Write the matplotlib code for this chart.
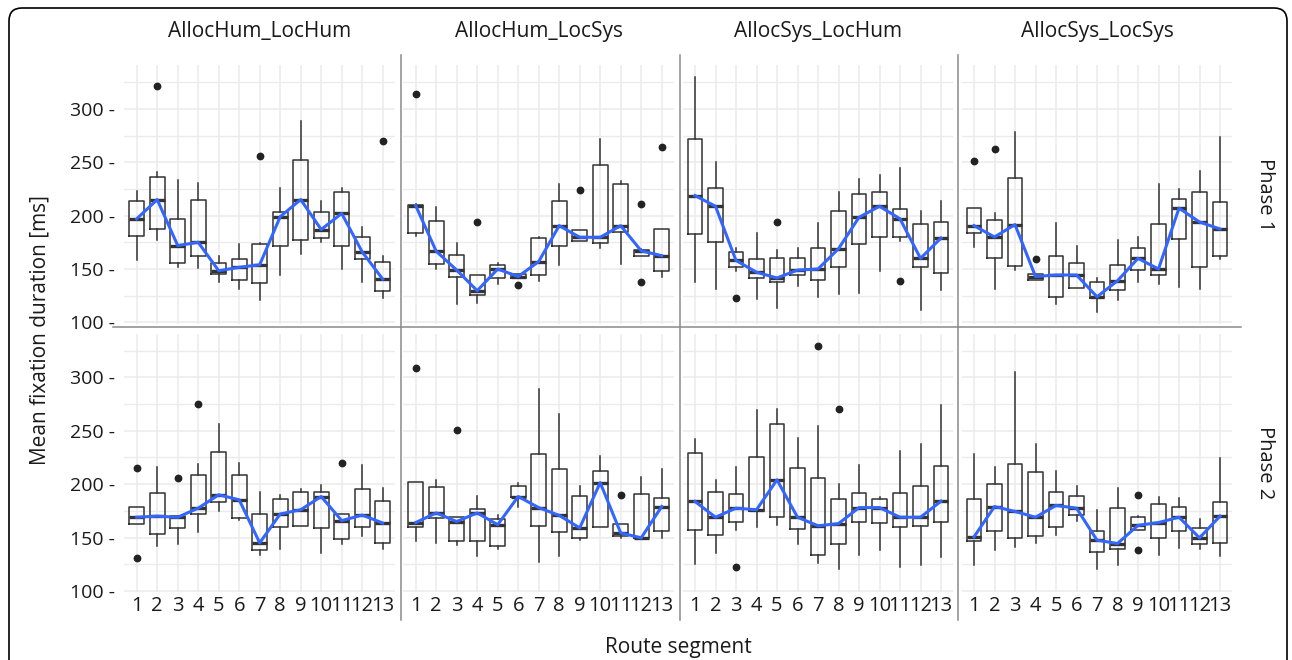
import matplotlib
matplotlib.use("Agg")
import matplotlib.pyplot as plt
from matplotlib.patches import FancyBboxPatch
from matplotlib.lines import Line2D
from matplotlib.ticker import FixedLocator

plt.rcParams['font.family'] = ['Open Sans', 'DejaVu Sans']

segments = list(range(1, 14))
seg_labels = [str(s) for s in segments]
conditions = ["AllocHum_LocHum", "AllocHum_LocSys", "AllocSys_LocHum", "AllocSys_LocSys"]
phases = ["Phase 1", "Phase 2"]
y_ticks = [100, 150, 200, 250, 300]
y_tick_labels = ["100 -", "150 -", "200 -", "250 -", "300 -"]

# ---- Phase 1, AllocHum_LocHum
p1_ahlh_lo = [158, 177, 151.6, 150.6, 137.5, 131, 121, 144, 164, 175, 150, 138, 123]
p1_ahlh_q1 = [181, 187.5, 155.3, 162.5, 145.3, 139.7, 136.6, 172, 177, 178.8, 172, 159.4, 129.7]
p1_ahlh_med = [197, 215, 172, 175, 148.4, 151.6, 154, 199, 215, 187, 202, 166, 140.6]
p1_ahlh_q3 = [214, 236.6, 197, 215, 155.3, 159, 173.4, 203, 251.6, 203, 222.5, 179.7, 157]
p1_ahlh_hi = [223.4, 240.6, 233, 231, 162.5, 173.4, 174, 225.6, 289, 214, 225.6, 189, 162.5]
p1_ahlh_out = [(2, 321), (7, 256), (13, 270)]

# ---- Phase 1, AllocHum_LocSys
p1_ahls_lo = [181, 150, 117.2, 118, 136, 141.6, 139, 154, 176.6, 169.7, 155, 162.5, 143]
p1_ahls_q1 = [183.4, 154.7, 142.2, 126, 141.6, 141.6, 144.7, 172, 176.6, 174.4, 184.4, 162.5, 148]
p1_ahls_med = [209.4, 166.6, 149, 129.7, 150, 143, 157, 190.6, 179.7, 179.7, 190.6, 167, 162.5]
p1_ahls_q3 = [210.3, 195.3, 163.4, 144.7, 154, 145.3, 179, 214, 187, 247, 229.7, 168, 187.5]
p1_ahls_hi = [211, 208, 174.4, 144.7, 156, 145.3, 180, 229.7, 187, 272, 232, 168.6, 187.5]
p1_ahls_out = [(1, 314), (4, 194), (6, 135), (9, 224.4), (12, 211), (12, 137.5), (13, 264)]

# ---- Phase 1, AllocSys_LocHum
p1_aslh_lo = [137.5, 131, 148.4, 122, 113.4, 134.4, 124, 127, 128, 148.4, 176, 112, 130]
p1_aslh_q1 = [183, 175, 151.6, 142, 137.5, 144.4, 139.7, 151.6, 173.4, 179.7, 179.7, 151.6, 146]
p1_aslh_med = [218.75, 208.75, 158, 147, 141.6, 149, 150, 169, 198.4, 208.75, 197, 160, 179]
p1_aslh_q3 = [272, 226, 166, 159.4, 160.3, 160.3, 170, 204, 220, 222, 206, 192, 194.4]
p1_aslh_hi = [330, 250, 170, 183.4, 168, 170, 193, 222, 234, 238, 245, 204, 214]
p1_aslh_out = [(3, 122.8), (5, 194.4), (11, 139)]

# ---- Phase 1, AllocSys_LocSys
p1_asls_lo = [171, 131, 149, 139.7, 117, 132, 109.6, 121, 138, 136, 133, 131, 159.4]
p1_asls_q1 = [183.75, 160, 152.5, 139.7, 123.4, 132, 122.5, 130, 149.4, 144.4, 178, 151.6, 162]
p1_asls_med = [190.6, 180, 191.6, 143, 144.4, 144.4, 124, 139, 160, 150, 207, 194, 187.5]
p1_asls_q3 = [207, 196, 235, 145.3, 162, 155.6, 137.5, 153.75, 170, 192, 215.6, 222, 213]
p1_asls_hi = [207, 202, 278, 145.3, 193, 172, 142, 177, 180, 230, 225, 241.6, 274]
p1_asls_out = [(1, 251), (2, 262.5), (4, 159.4)]

# ---- Phase 2, AllocHum_LocHum
p2_ahlh_lo = [163, 142.5, 144.4, 155, 174.4, 166, 133.5, 139, 161, 135.7, 144, 151, 139.4]
p2_ahlh_q1 = [163, 153, 159, 172, 183, 168, 138, 159.6, 161, 159, 149, 160, 145]
p2_ahlh_med = [169, 170, 169, 177.5, 190, 185.3, 145, 172, 176, 188.4, 165.8, 171, 163.6]
p2_ahlh_q3 = [179, 191.5, 170, 208.5, 229.6, 208.5, 172, 186, 193, 192.4, 172, 195, 183.75]
p2_ahlh_hi = [179, 216, 170, 218.5, 256, 219.4, 193, 190, 195, 199, 172, 218, 196.8]
p2_ahlh_out = [(1, 214.75), (1, 131), (3, 206), (4, 274.6), (11, 220)]

# ---- Phase 2, AllocHum_LocSys
p2_ahls_lo = [147, 145, 143, 132.6, 139.4, 179, 127.3, 133, 148, 160, 149.7, 149.7, 149.7]
p2_ahls_q1 = [159.6, 168, 147, 147, 142.5, 187.5, 161, 155, 150, 160, 151, 149.7, 155.8]
p2_ahls_med = [164, 173, 165, 173, 162, 188.4, 178, 170.7, 159, 201.4, 154.3, 149.7, 179]
p2_ahls_q3 = [201.7, 197.7, 168.9, 176.6, 167.3, 198.6, 228, 213.8, 189.3, 212, 163, 190.6, 186.8]
p2_ahls_hi = [201.7, 204, 168.9, 189, 171.35, 201.4, 289, 266, 198.3, 226, 163, 207, 214]
p2_ahls_out = [(1, 309), (3, 251), (11, 190)]

# ---- Phase 2, AllocSys_LocHum
p2_aslh_lo = [125, 135.7, 157.4, 159.6, 162, 144, 126.4, 121, 133.5, 138, 122.7, 124, 131.7]
p2_aslh_q1 = [157.4, 152, 164.5, 175, 169, 158.3, 134, 144, 165, 163.6, 159.6, 161, 165]
p2_aslh_med = [183.75, 169, 177.5, 176, 204, 169, 161, 163, 178, 178, 169, 169, 184]
p2_aslh_q3 = [229.3, 193, 190.9, 225, 256, 215, 206, 186, 191.5, 186, 191.5, 198, 217]
p2_aslh_hi = [242, 204, 216, 269, 270.5, 243, 254.4, 200, 218, 188.4, 231, 237.4, 273.6]
p2_aslh_out = [(3, 122.7), (7, 329.5), (8, 270.5)]

# ---- Phase 2, AllocSys_LocSys
p2_asls_lo = [124, 138, 141, 145, 152, 165.8, 120.8, 124, 156.8, 134, 140.4, 139.7, 133]
p2_asls_q1 = [147, 156, 150, 151, 159.6, 171.35, 136.6, 139.7, 156.8, 149.7, 156, 144, 145]
p2_asls_med = [150.6, 179, 174.4, 169, 180, 177.5, 147.5, 144.4, 161.4, 164, 169, 149.7, 170]
p2_asls_q3 = [186, 200, 218.5, 211, 192.4, 189, 156, 177.5, 168.9, 181, 179, 159, 182.8]
p2_asls_hi = [228, 216, 304.6, 237.4, 212.6, 198.3, 176, 196, 169.8, 187.5, 187, 167.6, 224.7]
p2_asls_out = [(9, 190), (9, 138.2)]

panels = [
    [(p1_ahlh_lo, p1_ahlh_q1, p1_ahlh_med, p1_ahlh_q3, p1_ahlh_hi, p1_ahlh_out),
     (p1_ahls_lo, p1_ahls_q1, p1_ahls_med, p1_ahls_q3, p1_ahls_hi, p1_ahls_out),
     (p1_aslh_lo, p1_aslh_q1, p1_aslh_med, p1_aslh_q3, p1_aslh_hi, p1_aslh_out),
     (p1_asls_lo, p1_asls_q1, p1_asls_med, p1_asls_q3, p1_asls_hi, p1_asls_out)],
    [(p2_ahlh_lo, p2_ahlh_q1, p2_ahlh_med, p2_ahlh_q3, p2_ahlh_hi, p2_ahlh_out),
     (p2_ahls_lo, p2_ahls_q1, p2_ahls_med, p2_ahls_q3, p2_ahls_hi, p2_ahls_out),
     (p2_aslh_lo, p2_aslh_q1, p2_aslh_med, p2_aslh_q3, p2_aslh_hi, p2_aslh_out),
     (p2_asls_lo, p2_asls_q1, p2_asls_med, p2_asls_q3, p2_asls_hi, p2_asls_out)],
]

W, H = 1292, 660
fig = plt.figure(figsize=(W / 100, H / 100), dpi=100)
fig.patch.set_facecolor("white")

def px_axes(x0, y_top, w, h):
    return fig.add_axes([x0 / W, 1 - (y_top + h) / H, w / W, h / H])

col_left = [124.4, 403.4, 682.7, 961.7]
col_w = 270.6
row_top = [65.0, 333.5]
row_h = 258.5
txt = "#1a1a1a"

box_col = "#333333"
for r in range(2):
    for c in range(4):
        lo, q1, med, q3, hi, out = panels[r][c]
        ax = px_axes(col_left[c], row_top[r], col_w, row_h)
        ax.set_xlim(0.4, 13.6)
        ax.set_ylim(99, 341)
        ax.set_facecolor("white")
        for s in ax.spines.values():
            s.set_visible(False)
        ax.xaxis.set_major_locator(FixedLocator(segments))
        ax.yaxis.set_major_locator(FixedLocator(y_ticks))
        ax.yaxis.set_minor_locator(FixedLocator([125, 175, 225, 275, 325]))
        ax.grid(True, which="major", color="#EBEBEB", lw=1.1, zorder=0)
        ax.grid(True, which="minor", axis="y", color="#EBEBEB", lw=1.0, zorder=0)
        ax.set_axisbelow(True)
        ax.tick_params(which="both", length=0)
        stats = []
        for i in range(13):
            fl = [v for (sg, v) in out if sg == segments[i]]
            stats.append(dict(whislo=lo[i], q1=q1[i], med=med[i], q3=q3[i],
                              whishi=hi[i], fliers=fl))
        ax.bxp(stats, positions=segments, widths=0.72, showcaps=False,
               boxprops=dict(color=box_col, lw=1.1),
               whiskerprops=dict(color=box_col, lw=1.1),
               medianprops=dict(color=box_col, lw=2.4),
               flierprops=dict(marker="o", markersize=4.6, markerfacecolor="#222222",
                               markeredgecolor="#222222"),
               manage_ticks=False, zorder=3)
        ax.plot(segments, med, color="#3366FF", lw=2.2, zorder=4, solid_joinstyle="round")
        if c == 0:
            ax.set_yticklabels(y_tick_labels, fontsize=14, color=txt)
            ax.tick_params(axis="y", pad=7)
        else:
            ax.set_yticklabels([])
        if r == 1:
            ax.set_xticklabels(seg_labels, fontsize=14.5, color=txt)
            ax.tick_params(axis="x", pad=3)
        else:
            ax.set_xticklabels([])
        if r == 0:
            ax.text(0.5, 1 - (31 - row_top[0]) / row_h, conditions[c],
                    transform=ax.transAxes, ha="center", va="center",
                    fontsize=15, color=txt)
    fig.text(1265 / W, 1 - (row_top[r] + row_h / 2) / H, phases[r], rotation=-90,
             ha="center", va="center", fontsize=14.5, color=txt)

fig.text(678 / W, 1 - 648 / H, "Route segment", ha="center", va="center",
         fontsize=15, color=txt)
fig.text(40 / W, 1 - 330 / H, "Mean fixation duration [ms]", rotation=90,
         ha="center", va="center", fontsize=15, color=txt)

# separators between facets
sep = "#8a8a8a"
fig.add_artist(Line2D([113 / W, 1241 / W], [1 - 326.7 / H, 1 - 326.7 / H],
                      transform=fig.transFigure, color=sep, lw=1.1))
for xs in [400.5, 679.5, 957.7]:
    fig.add_artist(Line2D([xs / W, xs / W], [1 - 55 / H, 1 - 620 / H],
                          transform=fig.transFigure, color=sep, lw=1.1))

# rounded outer frame (open at bottom edge of the image)
frame = FancyBboxPatch((9 / 100, -0.3), (1287 - 9) / 100, (660 - 8) / 100 + 0.3,
                       boxstyle="round,pad=0,rounding_size=0.13",
                       transform=fig.dpi_scale_trans, fill=False,
                       edgecolor="black", lw=1.2)
fig.add_artist(frame)

fig.savefig("out.png", dpi=100, facecolor="white")
